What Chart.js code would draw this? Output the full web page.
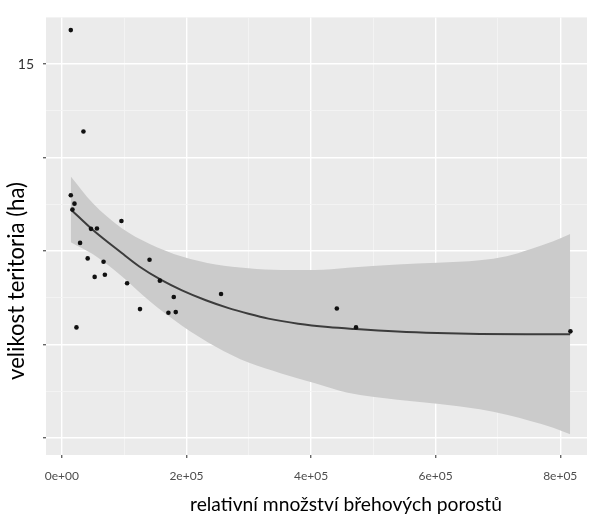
<!DOCTYPE html>
<html><head><meta charset="utf-8">
<script src="https://cdn.jsdelivr.net/npm/chart.js@4/dist/chart.umd.min.js"></script>
<style>html,body{margin:0;padding:0;background:#fff}#wrap{width:591px;height:519px;position:relative}</style>
</head><body><div id="wrap"><canvas id="c" width="591" height="519"></canvas></div>
<script>
// observed points
const pointX = [14300, 34600, 14300, 20200, 17000, 95600, 46700, 56300, 29200, 41400, 66900, 140700, 52600, 69000, 104700, 157300, 179600, 125400, 171000, 182800, 23400, 255500, 441400, 472200, 816400];
const pointY = [16.82, 11.40, 7.99, 7.54, 7.22, 6.61, 6.19, 6.21, 5.44, 4.61, 4.43, 4.54, 3.62, 3.74, 3.28, 3.42, 2.55, 1.90, 1.70, 1.74, 0.92, 2.71, 1.93, 0.92, 0.71];
// smoothed fit
const fitX = [14300, 49400, 95600, 124300, 159400, 192800, 231100, 267700, 299600, 331500, 379300, 427100, 471700, 538600, 602400, 670900, 745800, 816000];
const fitY = [7.23, 6.14, 4.91, 4.18, 3.46, 2.90, 2.37, 1.95, 1.65, 1.39, 1.12, 0.94, 0.83, 0.70, 0.62, 0.57, 0.55, 0.55];
// confidence band
const bandX = [14300, 49400, 95600, 140200, 192800, 247000, 299600, 352200, 406400, 458900, 538600, 602400, 670900, 714000, 750600, 788800, 816000];
const bandUpper = [8.99, 7.57, 6.24, 5.40, 4.71, 4.28, 4.08, 3.99, 3.99, 4.11, 4.29, 4.38, 4.51, 4.73, 5.09, 5.53, 5.92];
const bandLower = [5.48, 4.84, 3.67, 2.34, 1.01, -0.11, -0.96, -1.54, -2.07, -2.58, -2.95, -3.16, -3.46, -3.75, -4.07, -4.44, -4.79];
// axes
const xTicks = [0, 100000, 200000, 300000, 400000, 500000, 600000, 700000, 800000];
const xTickLabels = {0: '0e+00', 200000: '2e+05', 400000: '4e+05', 600000: '6e+05', 800000: '8e+05'};
const yTicks = [-5, -2.5, 0, 2.5, 5, 7.5, 10, 12.5, 15];
const yTickLabels = {15: '15'};
const xTitle = 'relativní množství břehových porostů';
const yTitle = 'velikost teritoria (ha)';

const toXY = (xs, ys) => xs.map((x, i) => ({x: x, y: ys[i]}));

function fitFont(ctx, text, width, family) {
  ctx.font = '18px ' + family;
  const w = ctx.measureText(text).width;
  return (18 * width / w).toFixed(2) + 'px ' + family;
}

const bgPlugin = {
  id: 'panelBg',
  beforeDraw(chart) {
    const {ctx, chartArea: a} = chart;
    ctx.save();
    ctx.fillStyle = '#ebebeb';
    ctx.fillRect(a.left, a.top, a.right - a.left, a.bottom - a.top);
    ctx.restore();
  },
  afterDraw(chart) {
    const ctx = chart.ctx;
    ctx.save();
    ctx.fillStyle = '#000';
    ctx.textAlign = 'center';
    ctx.textBaseline = 'middle';
    ctx.font = fitFont(ctx, xTitle, 312, 'Lato');
    ctx.fillText(xTitle, 346, 505);
    ctx.translate(17, 281);
    ctx.rotate(-Math.PI / 2);
    ctx.font = fitFont(ctx, yTitle, 198, 'Lato');
    ctx.fillText(yTitle, 0, 0);
    ctx.restore();
  }
};

const isMajorX = v => Math.abs(v % 200000) < 1;
const isMajorY = v => Math.abs(v % 5) < 1e-6;

new Chart(document.getElementById('c'), {
  type: 'scatter',
  data: {
    datasets: [
      {label: 'points', data: toXY(pointX, pointY), pointRadius: 2.3, pointBackgroundColor: '#111', pointBorderWidth: 0, showLine: false},
      {label: 'fit', data: toXY(fitX, fitY), showLine: true, borderColor: '#3c3c3c', borderWidth: 2, pointRadius: 0, cubicInterpolationMode: 'monotone', fill: false},
      {label: 'upper', data: toXY(bandX, bandUpper), showLine: true, borderWidth: 0, borderColor: 'rgba(0,0,0,0)', pointRadius: 0, cubicInterpolationMode: 'monotone', fill: '+1', backgroundColor: '#cbcbcb'},
      {label: 'lower', data: toXY(bandX, bandLower), showLine: true, borderWidth: 0, borderColor: 'rgba(0,0,0,0)', pointRadius: 0, cubicInterpolationMode: 'monotone', fill: false}
    ]
  },
  options: {
    responsive: false,
    animation: false,
    devicePixelRatio: 1,
    layout: {padding: {top: 15, right: 0, left: 0, bottom: 0}},
    plugins: {legend: {display: false}, tooltip: {enabled: false}},
    scales: {
      x: {
        type: 'linear', min: -25500, max: 843000,
        afterBuildTicks: s => { s.ticks = xTicks.map(v => ({value: v})); },
        afterFit: s => { s.height = 64; },
        border: {display: false},
        grid: {
          color: c => isMajorX(c.tick.value) ? '#ffffff' : '#f4f4f4',
          lineWidth: c => isMajorX(c.tick.value) ? 1.4 : 0.9,
          tickColor: c => isMajorX(c.tick.value) ? '#666' : 'rgba(0,0,0,0)',
          tickLength: 3, drawTicks: true
        },
        ticks: {
          autoSkip: false, maxRotation: 0, padding: 11,
          color: '#4d4d4d', font: {family: 'Lato', size: 12},
          callback: v => xTickLabels[v] || ''
        }
      },
      y: {
        type: 'linear', min: -5.904, max: 17.5,
        afterBuildTicks: s => { s.ticks = yTicks.map(v => ({value: v})); },
        afterFit: s => { s.width = 46; },
        border: {display: false},
        grid: {
          color: c => isMajorY(c.tick.value) ? '#ffffff' : '#f4f4f4',
          lineWidth: c => isMajorY(c.tick.value) ? 1.4 : 0.9,
          tickColor: c => isMajorY(c.tick.value) ? '#666' : 'rgba(0,0,0,0)',
          tickLength: 3, drawTicks: true
        },
        ticks: {
          autoSkip: false, padding: 9,
          color: '#333', font: {family: 'Lato', size: 14},
          callback: v => yTickLabels[v] || ''
        }
      }
    }
  },
  plugins: [bgPlugin]
});
</script>
</body></html>
